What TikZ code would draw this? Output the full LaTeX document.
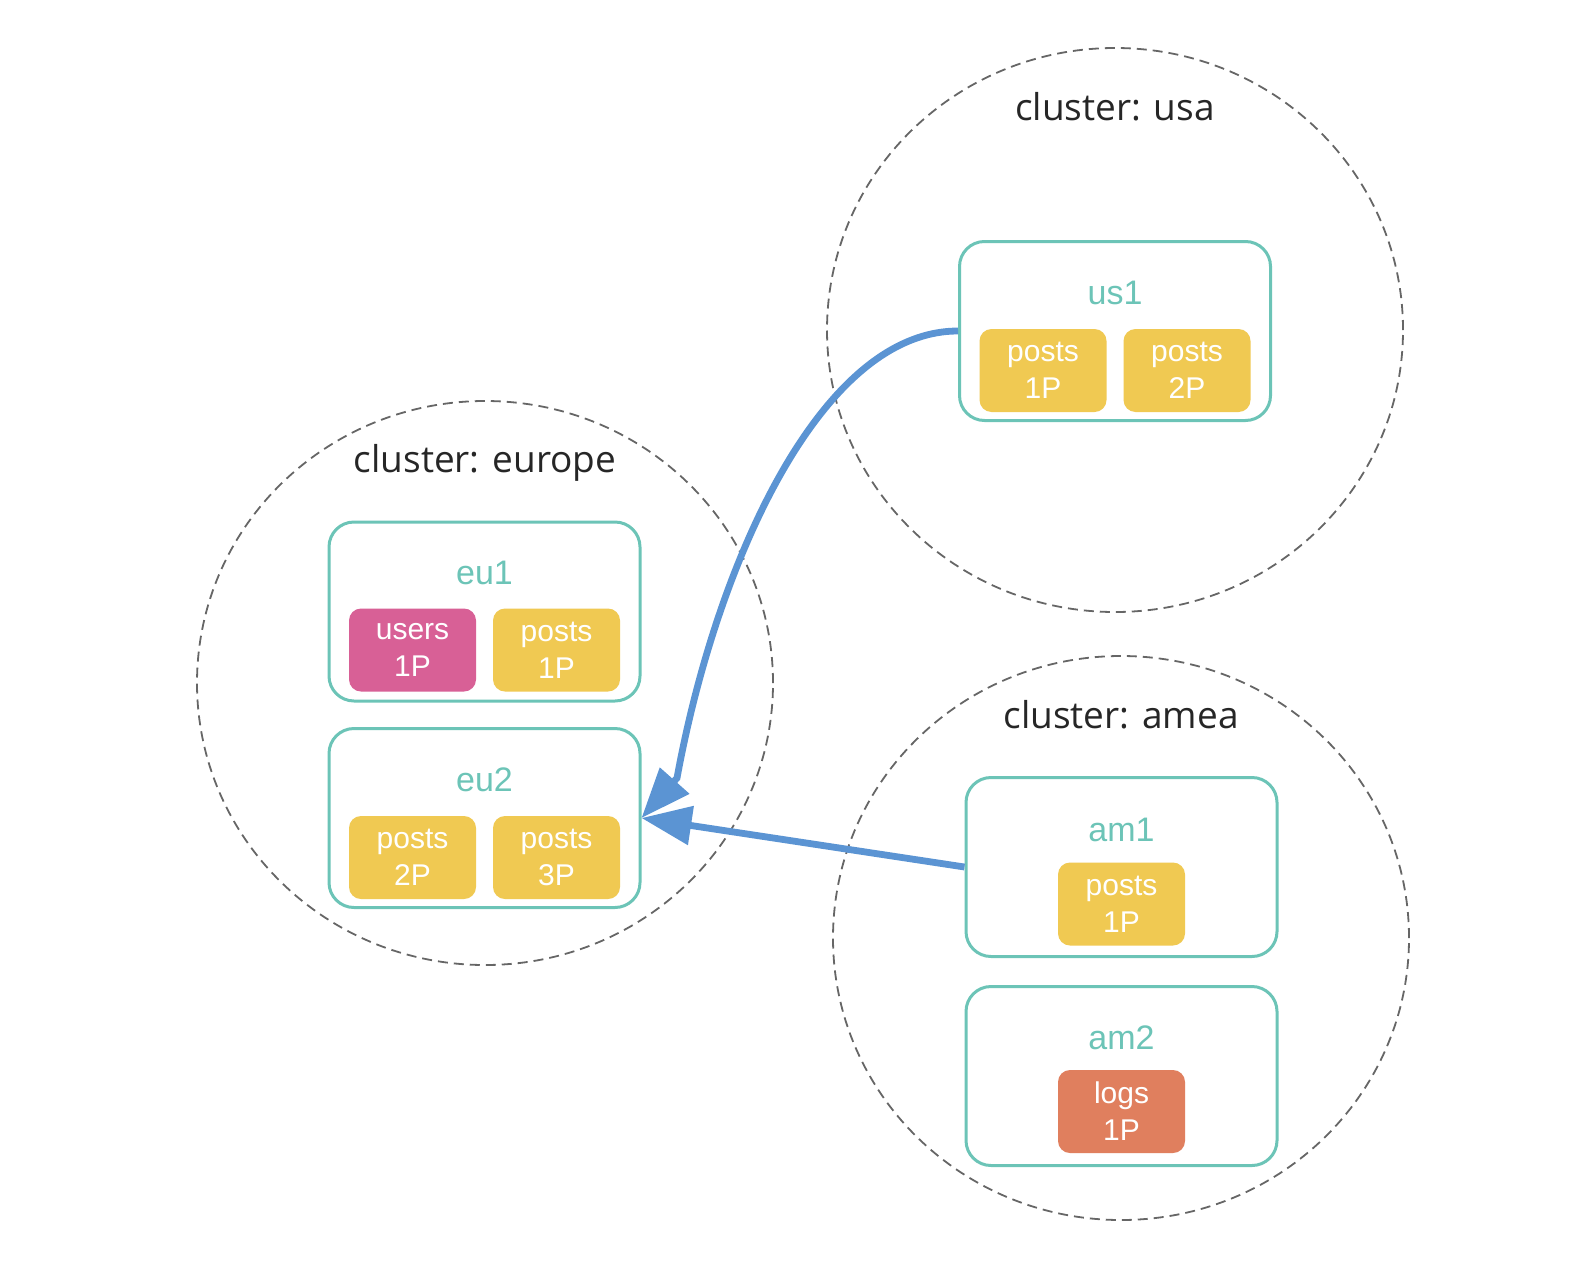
\documentclass[tikz,border=0pt]{standalone}
\usepackage{fontspec}
\setmainfont{Liberation Sans}
\newfontfamily\titlefont{Open Sans}
\usetikzlibrary{arrows.meta,calc,shapes.geometric}
\definecolor{teal1}{HTML}{6CC4B7}
\definecolor{cyellow}{HTML}{F0C952}
\definecolor{cpink}{HTML}{D86096}
\definecolor{corange}{HTML}{E07F5E}
\definecolor{cblue}{HTML}{5B94D3}
\definecolor{cgray}{HTML}{666666}
\tikzset{
  clus/.style={draw=cgray, line width=0.9pt, dash pattern=on 5pt off 3pt, ellipse, inner sep=0pt,
    minimum width=288pt, minimum height=282pt},
  ctitle/.style={anchor=base, font=\titlefont\fontsize{18.5}{22}\selectfont, text=black!85},
  srv/.style={draw=teal1, line width=1.5pt, rounded corners=12.5pt, fill=white,
    minimum width=155.5pt, minimum height=89.5pt, inner sep=0pt},
  lbl/.style={anchor=base, text=teal1, font=\fontsize{17}{20}\selectfont},
  chip/.style={rounded corners=6pt, minimum width=63.5pt, minimum height=41.5pt, inner sep=0pt,
    text=white, align=center, font=\fontsize{15}{18.5}\selectfont},
  flow/.style={draw=cblue, line width=3.4pt, -{Triangle[length=25pt, width=19pt]}}
}
\begin{document}
\begin{tikzpicture}[x=0.5pt, y=-0.5pt]
\useasboundingbox (0,0) rectangle (1588,1268);

% clusters
\node[clus] (usa) at (1115,330) {};
\node[clus] (europe) at (485,683) {};
\node[clus] (amea) at (1121,938) {};
\node[ctitle] (usat) at (1115,120) {cluster: usa};
\node[ctitle] (eut) at (485,472) {cluster: europe};
\node[ctitle] (amt) at (1121,728) {cluster: amea};

% servers
\node[srv] (us1) at (1115,331) {};
\node[srv] (eu1) at (484.5,611.5) {};
\node[srv] (eu2) at (484.5,818) {};
\node[srv] (am1) at (1121.5,867) {};
\node[srv] (am2) at (1121.5,1076) {};

\node[lbl] (us1l) at ($(us1.north)+(0,64)$) {us1};
\node[lbl] (eu1l) at ($(eu1.north)+(0,64)$) {eu1};
\node[lbl] (eu2l) at ($(eu2.north)+(0,64)$) {eu2};
\node[lbl] (am1l) at ($(am1.north)+(0,65)$) {am1};
\node[lbl] (am2l) at ($(am2.north)+(0,64)$) {am2};

% partitions
\node[chip, fill=cyellow] (us1a) at ($(us1.center)+(-72,39.5)$) {posts\\1P};
\node[chip, fill=cyellow] (us1b) at ($(us1.center)+(72,39.5)$) {posts\\2P};
\node[chip, fill=cpink] (eu1a) at ($(eu1.center)+(-72,38.5)$) {users\\1P};
\node[chip, fill=cyellow] (eu1b) at ($(eu1.center)+(72,38.5)$) {posts\\1P};
\node[chip, fill=cyellow] (eu2a) at ($(eu2.center)+(-72,39.5)$) {posts\\2P};
\node[chip, fill=cyellow] (eu2b) at ($(eu2.center)+(72,39.5)$) {posts\\3P};
\node[chip, fill=cyellow] (am1a) at ($(am1.center)+(0,37)$) {posts\\1P};
\node[chip, fill=corange] (am2a) at ($(am2.center)+(0,35.5)$) {logs\\1P};

% connectors
\draw[flow] (us1.west) .. controls (820,331) and (716,565) .. (677,778) -- (eu2.east);
\draw[flow] (am1.west) -- (eu2.east);
\end{tikzpicture}
\end{document}
